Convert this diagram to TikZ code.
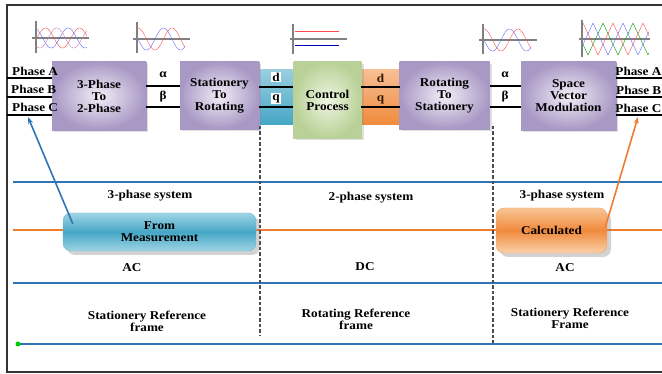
\documentclass[tikz,border=0pt]{standalone}
\usepackage{fontspec}
\setmainfont[FakeStretch=1.1]{Liberation Serif}
\usetikzlibrary{shadows, arrows.meta}

\definecolor{railblue}{HTML}{2E75B6}
\definecolor{railorange}{HTML}{ED7D31}
\definecolor{lilac}{HTML}{F2EEF7}
\definecolor{lilacdark}{HTML}{A898C4}
\definecolor{sage}{HTML}{EEF5E2}
\definecolor{sagedark}{HTML}{B9D197}
\definecolor{teal1}{HTML}{9FD4E4}
\definecolor{teal2}{HTML}{45A6C6}
\definecolor{peach1}{HTML}{F9C595}
\definecolor{peach2}{HTML}{F08A3C}

\begin{document}
\begin{tikzpicture}[x=1pt, y=-1pt,
  font=\bfseries\fontsize{12}{12}\selectfont,
  blk/.style={draw=lilacdark, inner color=lilac, outer color=lilacdark,
    align=center, drop shadow={opacity=0.25, shadow xshift=2pt, shadow yshift=-2pt}},
  strip/.style={draw=none, top color=#1!55, bottom color=#1, minimum width=34pt, minimum height=55pt},
  sig/.style={line width=1.6pt, black},
  rail/.style={line width=2.2pt, railblue},
  sep/.style={line width=2.6pt, black!70, dash pattern=on 3.5pt off 2pt},
  tag/.style={inner sep=1pt},
  pill/.style={rounded corners=8pt, minimum height=38pt, align=center,
    drop shadow={opacity=0.35, shadow xshift=4pt, shadow yshift=-4pt}},
]
  \useasboundingbox (0,0) rectangle (662,374);
  %frame
  \draw[line width=2pt, black!80] (662,5) -- (7,5) -- (7,372) -- (662,372);

  %dq strips sit behind the control block
  \node[strip=teal2] (dqin) at (276,97.5) {};
  \node[strip=peach2, minimum width=39pt] (dqout) at (380.5,97.5) {};

  \node[blk, minimum width=94pt, minimum height=68pt] (tp) at (99,96) {3-Phase\\To\\2-Phase};
  \node[blk, minimum width=79pt, minimum height=67pt] (sr) at (219.5,95.5) {Stationery\\To\\Rotating};
  \node[blk, draw=sagedark, inner color=sage, outer color=sagedark,
        minimum width=68pt, minimum height=76pt] (cp) at (327.5,100) {Control\\Process};
  \node[blk, minimum width=90pt, minimum height=67pt] (rs) at (444.5,95.5) {Rotating\\To\\Stationery};
  \node[blk, minimum width=95pt, minimum height=68pt] (svm) at (568.5,96) {Space\\Vector\\Modulation};

  %three phase lines in and out
  \coordinate (inA) at (7,78);
  \coordinate (inB) at (7,97);
  \coordinate (inC) at (7,115);
  \coordinate (outA) at (662,78);
  \coordinate (outB) at (662,97);
  \coordinate (outC) at (662,115);
  \draw[sig] (inA) -- (inA -| tp.west);
  \draw[sig] (inB) -- (inB -| tp.west);
  \draw[sig] (inC) -- (inC -| tp.west);
  \draw[sig] (svm.east |- outA) -- (outA);
  \draw[sig] (svm.east |- outB) -- (outB);
  \draw[sig] (svm.east |- outC) -- (outC);
  \node[tag, anchor=west] (pa) at (11,71) {Phase A};
  \node[tag, anchor=west] (pb) at (10,89) {Phase B};
  \node[tag, anchor=west] (pc) at (11,107) {Phase C};
  \node[tag, inner sep=0.5pt, anchor=east] (qa) at (662,71) {Phase A};
  \node[tag, inner sep=0.5pt, anchor=east] (qb) at (662,90) {Phase B};
  \node[tag, inner sep=0.5pt, anchor=east] (qc) at (662,108) {Phase C};

  %alpha beta links
  \draw[sig] ([yshift=10pt]tp.east) -- ([yshift=10pt]tp.east -| sr.west);
  \draw[sig] ([yshift=-11pt]tp.east) -- ([yshift=-11pt]tp.east -| sr.west);
  \draw[sig] ([yshift=9.5pt]rs.east) -- ([yshift=9.5pt]rs.east -| svm.west);
  \draw[sig] ([yshift=-11.5pt]rs.east) -- ([yshift=-11.5pt]rs.east -| svm.west);
  \node[tag] (al1) at (163,75) {α};
  \node[tag] (be1) at (163,97) {β};
  \node[tag] (al2) at (505,75) {α};
  \node[tag] (be2) at (505,97) {β};

  %d q links
  \draw[sig] ([yshift=10.5pt]dqin.west) -- ([yshift=10.5pt]dqin.east);
  \draw[sig] ([yshift=-9.5pt]dqin.west) -- ([yshift=-9.5pt]dqin.east);
  \draw[sig] ([yshift=10.5pt]dqout.west) -- ([yshift=10.5pt]dqout.east);
  \draw[sig] ([yshift=-9.5pt]dqout.west) -- ([yshift=-9.5pt]dqout.east);
  \node[tag, fill=white] (d1) at (276,77) {d};
  \node[tag, fill=white] (q1) at (276,98.5) {q};
  \node[tag, text=black!80!orange] (d2) at (380.5,78) {d};
  \node[tag, text=black!80!orange] (q2) at (380.5,99.5) {q};

  %small wave sketches
  \draw[line width=1.2pt, gray] (36,21) -- (36,53);
  \draw[line width=1.2pt, gray] (32,38) -- (89,38);
  \draw[red!70] plot[domain=0:50, samples=60, smooth] ({37+\x},{38-10*sin(\x/34*360)});
  \draw[blue!60] plot[domain=0:50, samples=60, smooth] ({37+\x},{38-10*sin(\x/34*360+120)});
  \draw[blue!45!red!50] plot[domain=0:50, samples=60, smooth] ({37+\x},{38-10*sin(\x/34*360+240)});

  \draw[line width=1.2pt, gray] (137,22) -- (137,53);
  \draw[line width=1.2pt, gray] (133,39) -- (190,39);
  \draw[red!70] plot[domain=0:47, samples=60, smooth] ({138+\x},{39-11*cos(\x/34*360)});
  \draw[blue!60] plot[domain=0:47, samples=60, smooth] ({138+\x},{39+11*sin(\x/34*360)});

  \draw[line width=1.2pt, gray] (293,24) -- (293,54);
  \draw[line width=1.2pt, gray] (290,39) -- (347,39);
  \draw[line width=1pt, red!70] (295,32) -- (339,32);
  \draw[line width=1pt, blue!70!black] (295,46) -- (339,46);

  \draw[line width=1.2pt, gray] (483,24) -- (483,54);
  \draw[line width=1.2pt, gray] (479,40) -- (537,40);
  \draw[red!70] plot[domain=0:47, samples=60, smooth] ({484+\x},{40-11*cos(\x/34*360)});
  \draw[blue!60] plot[domain=0:47, samples=60, smooth] ({484+\x},{40+11*sin(\x/34*360)});

  \draw[line width=1.2pt, gray] (582,20) -- (582,57);
  \draw[line width=1.2pt, gray] (579,39) -- (650,39);
  \draw[red!70] plot[domain=0:66, samples=120] ({583+\x},{39-16*asin(sin(\x/30*360+90))/90});
  \draw[green!60!black] plot[domain=0:66, samples=120] ({583+\x},{39-16*asin(sin(\x/30*360+210))/90});
  \draw[blue!60] plot[domain=0:66, samples=120] ({583+\x},{39-16*asin(sin(\x/30*360+330))/90});

  %rails
  \coordinate (r1) at (13,182);
  \coordinate (r2) at (13,283);
  \coordinate (r3) at (18,344);
  \coordinate (ro) at (13,230);
  \draw[rail] (r1) -- (662,182);
  \draw[rail] (r2) -- (662,283);
  \draw[railorange, line width=1.5pt] (ro) -- (662,230);
  \draw[rail] (r3) -- (662,344);
  \fill[green!80!black] (r3) circle (2.5pt);

  %region borders
  \draw[sep] (260,126) -- (260,336);
  \draw[sep] (493,126) -- (493,343);

  \node[pill, draw=teal2!80, top color=teal1, bottom color=teal1, middle color=teal2,
        minimum width=193pt] (meas) at (159.5,232) {From\\Measurement};
  \node[pill, draw=peach2!80, top color=peach1, bottom color=peach1!80, middle color=peach2,
        minimum width=111pt, minimum height=45pt] (calc) at (551.5,230.5) {Calculated};

  \draw[railblue, line width=1.6pt, -{Stealth[length=7pt, width=5pt]}]
    ([xshift=10pt, yshift=-11pt]meas.north west) -- (28,117) coordinate (mc);
  \draw[railorange, line width=1.6pt, -{Stealth[length=7pt, width=5pt]}]
    ([xshift=-2pt, yshift=3pt]calc.east) -- (638,117) coordinate (cc);

  %region labels
  \node (sys1) at (150,196) {3-phase system};
  \node (sys2) at (371,198) {2-phase system};
  \node (sys3) at (562,196) {3-phase system};
  \node (ac1) at (132,268) {AC};
  \node (dc) at (365,267) {DC};
  \node (ac2) at (565,268) {AC};
  \node[align=center] (fr1) at (147,321) {Stationery Reference\\frame};
  \node[align=center] (fr2) at (356,319) {Rotating Reference\\frame};
  \node[align=center] (fr3) at (570,318) {Stationery Reference\\Frame};
\end{tikzpicture}
\end{document}
